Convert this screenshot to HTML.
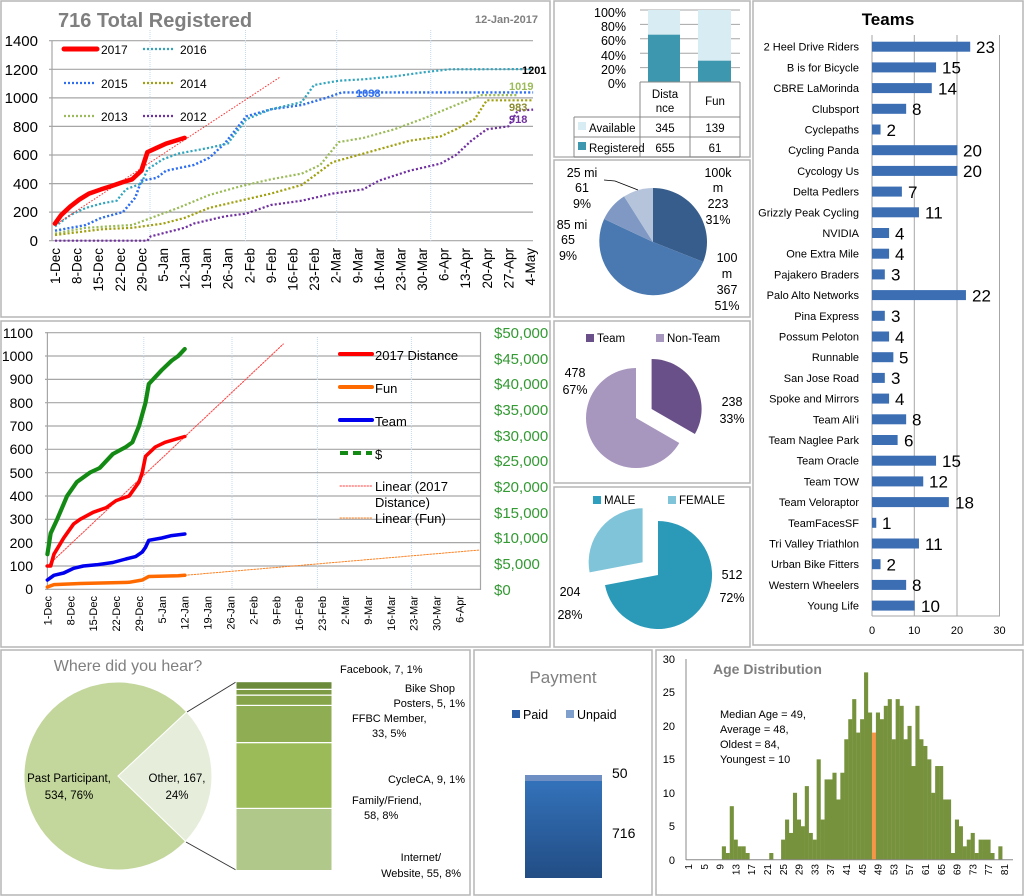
<!DOCTYPE html>
<html><head><meta charset="utf-8"><style>
html,body{margin:0;padding:0;background:#fff;}
svg{display:block;font-family:"Liberation Sans",sans-serif;}
</style></head><body>
<svg id="s" width="1024" height="896" viewBox="0 0 1024 896" xmlns="http://www.w3.org/2000/svg">
<defs>
<linearGradient id="pg" x1="0" y1="0" x2="0" y2="1"><stop offset="0" stop-color="#3474bd"/><stop offset="1" stop-color="#224d84"/></linearGradient>
</defs>
<rect width="1024" height="896" fill="#fff"/>
<!-- panels -->
<g fill="none" stroke="#b5b5b5" stroke-width="1.5">
<rect x="1" y="1" width="549" height="316"/>
<rect x="1" y="321" width="549" height="326"/>
<rect x="554" y="1" width="196" height="156"/>
<rect x="554" y="160" width="196" height="157"/>
<rect x="554" y="321" width="196" height="162"/>
<rect x="554" y="487" width="196" height="160"/>
<rect x="753" y="1" width="270" height="644"/>
<rect x="1" y="650" width="469" height="245"/>
<rect x="474" y="650" width="178" height="245"/>
<rect x="656" y="650" width="367" height="245"/>
</g>

<!-- ===== Chart 1 ===== -->
<text x="58" y="27" font-size="20" font-weight="bold" fill="#7f7f7f">716 Total Registered</text>
<text x="538" y="23" font-size="11" font-weight="bold" fill="#7f7f7f" text-anchor="end">12-Jan-2017</text>
<g stroke="#a6a6a6" stroke-width="1.2">
<line x1="49" y1="40.7" x2="533" y2="40.7"/><line x1="49" y1="69.3" x2="533" y2="69.3"/><line x1="49" y1="97.9" x2="533" y2="97.9"/><line x1="49" y1="126.4" x2="533" y2="126.4"/><line x1="49" y1="155" x2="533" y2="155"/><line x1="49" y1="183.6" x2="533" y2="183.6"/><line x1="49" y1="212.1" x2="533" y2="212.1"/><line x1="49" y1="240.7" x2="533" y2="240.7"/>
<line x1="52" y1="40.7" x2="52" y2="241"/>
</g>
<g stroke="#c5d9f1" stroke-width="1" stroke-dasharray="1,1">
<line x1="150" y1="30" x2="150" y2="241"/><line x1="245.5" y1="30" x2="245.5" y2="241"/><line x1="336.7" y1="30" x2="336.7" y2="241"/><line x1="430.7" y1="30" x2="430.7" y2="241"/>
</g>
<g font-size="15" text-anchor="end" fill="#000">
<text x="38" y="46">1400</text><text x="38" y="75">1200</text><text x="38" y="103">1000</text><text x="38" y="132">800</text><text x="38" y="160">600</text><text x="38" y="189">400</text><text x="38" y="217">200</text><text x="38" y="246">0</text>
</g>
<g font-size="13.5" text-anchor="end">
<text transform="translate(60,248) rotate(-90)">1-Dec</text><text transform="translate(81.6,248) rotate(-90)">8-Dec</text><text transform="translate(103.2,248) rotate(-90)">15-Dec</text><text transform="translate(124.8,248) rotate(-90)">22-Dec</text><text transform="translate(146.4,248) rotate(-90)">29-Dec</text><text transform="translate(168,248) rotate(-90)">5-Jan</text><text transform="translate(189.5,248) rotate(-90)">12-Jan</text><text transform="translate(211.1,248) rotate(-90)">19-Jan</text><text transform="translate(232.7,248) rotate(-90)">26-Jan</text><text transform="translate(254.3,248) rotate(-90)">2-Feb</text><text transform="translate(275.9,248) rotate(-90)">9-Feb</text><text transform="translate(297.5,248) rotate(-90)">16-Feb</text><text transform="translate(319.1,248) rotate(-90)">23-Feb</text><text transform="translate(340.7,248) rotate(-90)">2-Mar</text><text transform="translate(362.3,248) rotate(-90)">9-Mar</text><text transform="translate(383.9,248) rotate(-90)">16-Mar</text><text transform="translate(405.4,248) rotate(-90)">23-Mar</text><text transform="translate(427,248) rotate(-90)">30-Mar</text><text transform="translate(448.6,248) rotate(-90)">6-Apr</text><text transform="translate(470.2,248) rotate(-90)">13-Apr</text><text transform="translate(491.8,248) rotate(-90)">20-Apr</text><text transform="translate(513.4,248) rotate(-90)">27-Apr</text><text transform="translate(535,248) rotate(-90)">4-May</text>
</g>
<g transform="translate(55,0) scale(1.0508,1) translate(-52,0)" fill="none" stroke-linecap="butt">
<polyline stroke="#7030a0" stroke-width="2.2" stroke-dasharray="2,2" points="52,240.7 140,240.7 143,236.4 175.3,227.8 184.1,223.6 213.4,216.4 234,213.6 257.5,205 286.8,200.7 316.2,193.6 345.5,189.3 360.2,180.7 389.5,170.7 418.9,163.6 433.6,155 448.2,140.7 462.9,129.3 483.4,126.4 492.3,110.7 507,109.6"/>
<polyline stroke="#9bbb59" stroke-width="2.2" stroke-dasharray="2,2" points="52,233.6 81.4,227.8 125.4,225 140,219.3 169.4,207.8 198.8,195 228.1,186.4 257.5,179.3 286.8,173.6 304.4,165 322,142.1 345.5,137.9 374.9,129.3 404.2,117.9 433.6,105 457,95.1 492.3,95.1"/>
<polyline stroke="#a0a010" stroke-width="2.2" stroke-dasharray="2,2" points="52,235 96,229.3 125.4,227.8 154.7,223.6 175.3,217.9 198.8,207.9 228.1,200.7 257.5,193.6 286.8,185 316.2,162.1 330.8,157.9 360.2,149.3 389.5,140.7 418.9,136.4 433.6,129.3 451.2,119.3 462.9,100.3 507,100.3"/>
<polyline stroke="#2e6ef0" stroke-width="2.4" stroke-dasharray="2,2" points="52,230.7 81.4,225 96,217.9 116.6,212.1 128.3,197.8 134.2,180.7 148.9,177.8 157.7,170.7 184.1,165 198.8,157.8 213.4,143.6 234,116.4 257.5,109.3 286.8,105 310.3,97.8 325,92.4 507,92.4"/>
<polyline stroke="#31a5be" stroke-width="2.2" stroke-dasharray="2,2" points="52,226.4 66.7,215 81.4,207.9 96,203.6 110.7,200.7 119.5,189.3 134.2,183.6 140,169.3 154.7,159.3 169.4,153.6 184.1,150.7 198.8,147.8 216.4,143.6 234,119.3 257.5,109.3 286.8,102.1 298.5,85 322,80.7 345.5,79.3 374.9,76.4 404.2,72.1 427.7,69.3 507,69.1"/>
<line x1="52" y1="225" x2="266.7" y2="76.7" stroke="#ff3030" stroke-width="1" stroke-dasharray="1.5,1.5"/>
<polyline stroke="#ff0000" stroke-width="4.5" stroke-linejoin="round" stroke-linecap="round" points="52,223.6 57.9,215 66.7,206.4 75.5,199.3 84.3,193.6 96,189.3 104.8,186.4 116.6,182.1 125.4,179.3 134.2,170.7 140,152.1 148.9,147.8 157.7,143.6 175.3,137.9"/>
</g>
<!-- legend 1 -->
<line x1="64" y1="49" x2="97" y2="49" stroke="#ff0000" stroke-width="5" stroke-linecap="round"/>
<line x1="143" y1="49" x2="175" y2="49" stroke="#31a5be" stroke-width="2.2" stroke-dasharray="2,2"/>
<line x1="64" y1="83" x2="96" y2="83" stroke="#2e6ef0" stroke-width="2.2" stroke-dasharray="2,2"/>
<line x1="143" y1="83" x2="175" y2="83" stroke="#a0a010" stroke-width="2.2" stroke-dasharray="2,2"/>
<line x1="64" y1="116" x2="96" y2="116" stroke="#9bbb59" stroke-width="2.2" stroke-dasharray="2,2"/>
<line x1="143" y1="116" x2="175" y2="116" stroke="#7030a0" stroke-width="2.2" stroke-dasharray="2,2"/>
<g font-size="12"><text x="101" y="54">2017</text><text x="180" y="54">2016</text><text x="101" y="88">2015</text><text x="180" y="88">2014</text><text x="101" y="121">2013</text><text x="180" y="121">2012</text></g>
<g font-size="11" font-weight="bold">
<text x="522" y="74">1201</text><text x="356" y="97" fill="#2e6ef0">1038</text><text x="509" y="90" fill="#9bbb59">1019</text><text x="509" y="111" fill="#8a8a30">983</text><text x="509" y="123" fill="#7030a0">918</text>
</g>

<!-- ===== Chart 2 ===== -->
<g stroke="#a6a6a6" stroke-width="1.2">
<line x1="45" y1="332.7" x2="480" y2="332.7"/><line x1="45" y1="356" x2="480" y2="356"/><line x1="45" y1="379.4" x2="480" y2="379.4"/><line x1="45" y1="402.7" x2="480" y2="402.7"/><line x1="45" y1="426" x2="480" y2="426"/><line x1="45" y1="449.3" x2="480" y2="449.3"/><line x1="45" y1="472.7" x2="480" y2="472.7"/><line x1="45" y1="496" x2="480" y2="496"/><line x1="45" y1="519.3" x2="480" y2="519.3"/><line x1="45" y1="542.6" x2="480" y2="542.6"/><line x1="45" y1="566" x2="480" y2="566"/><line x1="45" y1="589.3" x2="480" y2="589.3"/>
<line x1="47.4" y1="332" x2="47.4" y2="590"/><line x1="480.5" y1="332" x2="480.5" y2="590"/>
</g>
<g stroke="#c5d9f1" stroke-width="1" stroke-dasharray="1,1">
<line x1="143.8" y1="337" x2="143.8" y2="589"/><line x1="232" y1="337" x2="232" y2="589"/><line x1="317.4" y1="337" x2="317.4" y2="589"/><line x1="411.4" y1="337" x2="411.4" y2="589"/>
</g>
<g font-size="14" text-anchor="end">
<text x="33" y="338">1100</text><text x="33" y="361">1000</text><text x="33" y="384">900</text><text x="33" y="408">800</text><text x="33" y="431">700</text><text x="33" y="454">600</text><text x="33" y="478">500</text><text x="33" y="501">400</text><text x="33" y="524">300</text><text x="33" y="548">200</text><text x="33" y="571">100</text><text x="33" y="594">0</text>
</g>
<g font-size="15" fill="#339933">
<text x="494" y="338">$50,000</text><text x="494" y="364">$45,000</text><text x="494" y="389">$40,000</text><text x="494" y="415">$35,000</text><text x="494" y="441">$30,000</text><text x="494" y="466">$25,000</text><text x="494" y="492">$20,000</text><text x="494" y="518">$15,000</text><text x="494" y="543">$10,000</text><text x="494" y="569">$5,000</text><text x="494" y="595">$0</text>
</g>
<g font-size="11" text-anchor="end">
<text transform="translate(51.4,596) rotate(-90)">1-Dec</text><text transform="translate(74.3,596) rotate(-90)">8-Dec</text><text transform="translate(97.2,596) rotate(-90)">15-Dec</text><text transform="translate(120.1,596) rotate(-90)">22-Dec</text><text transform="translate(143,596) rotate(-90)">29-Dec</text><text transform="translate(165.9,596) rotate(-90)">5-Jan</text><text transform="translate(188.7,596) rotate(-90)">12-Jan</text><text transform="translate(211.6,596) rotate(-90)">19-Jan</text><text transform="translate(234.5,596) rotate(-90)">26-Jan</text><text transform="translate(257.4,596) rotate(-90)">2-Feb</text><text transform="translate(280.3,596) rotate(-90)">9-Feb</text><text transform="translate(303.2,596) rotate(-90)">16-Feb</text><text transform="translate(326.1,596) rotate(-90)">23-Feb</text><text transform="translate(349,596) rotate(-90)">2-Mar</text><text transform="translate(371.9,596) rotate(-90)">9-Mar</text><text transform="translate(394.8,596) rotate(-90)">16-Mar</text><text transform="translate(417.6,596) rotate(-90)">23-Mar</text><text transform="translate(440.5,596) rotate(-90)">30-Mar</text><text transform="translate(463.4,596) rotate(-90)">6-Apr</text>
</g>
<g transform="translate(47.4,0) scale(1.0518,1) translate(-45,0)" fill="none" stroke-linejoin="round" stroke-linecap="round">
<line x1="45" y1="566" x2="269.3" y2="344" stroke="#ff4040" stroke-width="1" stroke-dasharray="1.5,1.5"/>
<line x1="175.6" y1="575.3" x2="456" y2="550" stroke="#ff8020" stroke-width="1" stroke-dasharray="1.5,1.5"/>
<polyline stroke="#138a13" stroke-width="4" points="45,554.3 48.1,533.3 54.3,519.3 63.7,496 73,482 85.4,472.6 94.7,468 107.2,454 119.6,447 125.8,442.3 132.1,426 138.3,402.6 141.4,384 153.8,370 163.1,360.7 169.4,356 175.6,349"/>
<polyline stroke="#ff0000" stroke-width="3.5" points="45,566 48.1,566 51.2,554.3 60.5,538 69.9,524 76.1,519.3 88.5,512.3 101,507.6 110.3,500.6 122.7,496 132.1,482 135.2,472.6 138.3,456.3 147.6,447 156.9,442.3 175.6,436.5"/>
<polyline stroke="#0000ee" stroke-width="3.5" points="45,580 51.2,575.3 60.5,573 69.9,568.3 79.2,566 91.6,564.8 107.2,562.5 119.6,559 128.9,556.6 135.2,552 138.3,547.3 141.4,540.3 153.8,538 163.1,535.6 175.6,534"/>
<polyline stroke="#ff6a00" stroke-width="3.5" points="45,587 51.2,584.6 76.1,583.5 122.7,582.3 135.2,580 141.4,576.5 169.4,575.8 175.6,575.3"/>
</g>
<g stroke-linecap="round">
<line x1="340" y1="354" x2="372" y2="354" stroke="#ff0000" stroke-width="4"/>
<line x1="340" y1="387" x2="372" y2="387" stroke="#ff6a00" stroke-width="4"/>
<line x1="340" y1="420" x2="372" y2="420" stroke="#0000ee" stroke-width="4"/>
<line x1="340" y1="453" x2="372" y2="453" stroke="#138a13" stroke-width="4" stroke-dasharray="8,5" stroke-linecap="butt"/>
<line x1="340" y1="486" x2="372" y2="486" stroke="#ff4040" stroke-width="1" stroke-dasharray="1.5,1.5"/>
<line x1="340" y1="518" x2="372" y2="518" stroke="#ff8020" stroke-width="1" stroke-dasharray="1.5,1.5"/>
</g>
<g font-size="13">
<text x="375" y="360">2017 Distance</text><text x="375" y="393">Fun</text><text x="375" y="426">Team</text><text x="375" y="459">$</text><text x="375" y="491">Linear (2017</text><text x="375" y="507">Distance)</text><text x="375" y="523">Linear (Fun)</text>
</g>

<!-- ===== Middle top: 100% bar ===== -->
<g stroke="#a6a6a6" stroke-width="1">
<line x1="640" y1="10" x2="740" y2="10"/><line x1="640" y1="24.4" x2="740" y2="24.4"/><line x1="640" y1="38.8" x2="740" y2="38.8"/><line x1="640" y1="53.2" x2="740" y2="53.2"/><line x1="640" y1="67.6" x2="740" y2="67.6"/>
</g>
<rect x="648" y="10" width="32" height="72" fill="#d8ecf3"/>
<rect x="648" y="34.7" width="32" height="47.3" fill="#3d97ae"/>
<rect x="698" y="10" width="33" height="72" fill="#d8ecf3"/>
<rect x="698" y="60.7" width="33" height="21.3" fill="#3d97ae"/>
<g font-size="12.5" text-anchor="end"><text x="626" y="17">100%</text><text x="626" y="31">80%</text><text x="626" y="45">60%</text><text x="626" y="60">40%</text><text x="626" y="74">20%</text><text x="626" y="88">0%</text></g>
<g stroke="#888" stroke-width="1" fill="none">
<line x1="640" y1="82" x2="740" y2="82"/><line x1="574" y1="117" x2="740" y2="117"/><line x1="574" y1="137" x2="740" y2="137"/><line x1="574" y1="157" x2="740" y2="157"/>
<line x1="640" y1="82" x2="640" y2="157"/><line x1="690" y1="82" x2="690" y2="157"/><line x1="740" y1="82" x2="740" y2="157"/><line x1="574" y1="117" x2="574" y2="157"/>
</g>
<rect x="578" y="122" width="8" height="8" fill="#d8ecf3"/><rect x="578" y="142" width="8" height="8" fill="#3d97ae"/>
<g font-size="11.5" text-anchor="middle">
<text x="665" y="98">Dista</text><text x="665" y="112">nce</text><text x="715" y="105">Fun</text>
<text x="665" y="132">345</text><text x="715" y="132">139</text><text x="665" y="152">655</text><text x="715" y="152">61</text>
</g>
<g font-size="11.5"><text x="589" y="132">Available</text><text x="589" y="152">Registered</text></g>

<!-- ===== distance pie ===== -->
<path d="M653,242 L653,188 A54,54 0 0 1 703.2,261.9 Z" fill="#365d8c"/>
<path d="M653,242 L703.2,261.9 A54,54 0 1 1 604.1,219 Z" fill="#4a78b0"/>
<path d="M653,242 L604.1,219 A54,54 0 0 1 624.1,196.4 Z" fill="#8099c4"/>
<path d="M653,242 L624.1,196.4 A54,54 0 0 1 653,188 Z" fill="#b5c4db"/>
<polyline points="604,180 615,181 638,190" fill="none" stroke="#000" stroke-width="0.8"/>
<g font-size="12.5" text-anchor="middle">
<text x="582" y="177">25 mi</text><text x="582" y="192">61</text><text x="582" y="208">9%</text>
<text x="718" y="177">100k</text><text x="718" y="192">m</text><text x="718" y="208">223</text><text x="718" y="224">31%</text>
<text x="572" y="229">85 mi</text><text x="568" y="244">65</text><text x="568" y="260">9%</text>
<text x="727" y="262">100</text><text x="727" y="278">m</text><text x="727" y="294">367</text><text x="727" y="310">51%</text>
</g>

<!-- ===== team pie ===== -->
<rect x="586" y="334" width="8" height="8" fill="#6a5088"/><rect x="656" y="334" width="8" height="8" fill="#a796bd"/>
<g font-size="11.5"><text x="597" y="342">Team</text><text x="667" y="342">Non-Team</text></g>
<path d="M636,418 L679.3,443 A50,50 0 1 1 636,368 Z" fill="#a796bd"/>
<path d="M651.6,409 L651.6,359 A50,50 0 0 1 694.9,434 Z" fill="#6a5088"/>
<g font-size="12.5" text-anchor="middle"><text x="575" y="377">478</text><text x="575" y="394">67%</text><text x="732" y="406">238</text><text x="732" y="423">33%</text></g>

<!-- ===== gender pie ===== -->
<rect x="593" y="496" width="8" height="8" fill="#2f9fbf"/><rect x="668" y="496" width="8" height="8" fill="#7fc4d9"/>
<g font-size="11.5"><text x="604" y="504">MALE</text><text x="679" y="504">FEMALE</text></g>
<path d="M658,575 L658,521 A54,54 0 1 1 605,585.1 Z" fill="#2b9ab9"/>
<path d="M642.6,562.3 L589.6,572.4 A54,54 0 0 1 642.6,508.3 Z" fill="#7fc4d9"/>
<g font-size="12.5" text-anchor="middle"><text x="732" y="579">512</text><text x="732" y="602">72%</text><text x="570" y="596">204</text><text x="570" y="619">28%</text></g>

<!-- ===== Teams ===== -->
<text x="888" y="25" font-size="17" font-weight="bold" text-anchor="middle">Teams</text>
<g stroke="#a6a6a6" stroke-width="1"><line x1="914.3" y1="35" x2="914.3" y2="616"/><line x1="957" y1="35" x2="957" y2="616"/><line x1="999.5" y1="35" x2="999.5" y2="616"/><line x1="872" y1="35" x2="872" y2="616"/><line x1="872" y1="616" x2="1000" y2="616"/></g>
<g id="tb" fill="#3c6eb4"></g>
<g font-size="11" text-anchor="end">
<text x="859" y="50.7">2 Heel Drive Riders</text><text x="859" y="71.4">B is for Bicycle</text><text x="859" y="92.1">CBRE LaMorinda</text><text x="859" y="112.8">Clubsport</text><text x="859" y="133.5">Cyclepaths</text><text x="859" y="154.2">Cycling Panda</text><text x="859" y="174.9">Cycology Us</text><text x="859" y="195.6">Delta Pedlers</text><text x="859" y="216.3">Grizzly Peak Cycling</text><text x="859" y="237">NVIDIA</text><text x="859" y="257.7">One Extra Mile</text><text x="859" y="278.4">Pajakero Braders</text><text x="859" y="299.1">Palo Alto Networks</text><text x="859" y="319.8">Pina Express</text><text x="859" y="340.5">Possum Peloton</text><text x="859" y="361.2">Runnable</text><text x="859" y="381.9">San Jose Road</text><text x="859" y="402.6">Spoke and Mirrors</text><text x="859" y="423.3">Team Ali'i</text><text x="859" y="444">Team Naglee Park</text><text x="859" y="464.7">Team Oracle</text><text x="859" y="485.4">Team TOW</text><text x="859" y="506.1">Team Veloraptor</text><text x="859" y="526.8">TeamFacesSF</text><text x="859" y="547.5">Tri Valley Triathlon</text><text x="859" y="568.2">Urban Bike Fitters</text><text x="859" y="588.9">Western Wheelers</text><text x="859" y="609.6">Young Life</text>
</g>
<g font-size="17">
<text x="976" y="53">23</text><text x="942" y="73.7">15</text><text x="938" y="94.4">14</text><text x="912" y="115">8</text><text x="886.5" y="135.8">2</text><text x="963" y="156.5">20</text><text x="963" y="177.2">20</text><text x="908" y="198">7</text><text x="925" y="218.6">11</text><text x="895" y="239.3">4</text><text x="895" y="260">4</text><text x="891" y="280.7">3</text><text x="972" y="301.4">22</text><text x="891" y="322">3</text><text x="895" y="342.8">4</text><text x="899" y="363.5">5</text><text x="891" y="384.2">3</text><text x="895" y="404.9">4</text><text x="912" y="425.6">8</text><text x="904" y="446.3">6</text><text x="942" y="467">15</text><text x="929" y="487.7">12</text><text x="955" y="508.4">18</text><text x="882" y="529.1">1</text><text x="925" y="549.8">11</text><text x="886.5" y="570.5">2</text><text x="912" y="591.2">8</text><text x="921" y="611.9">10</text>
</g>
<g font-size="11" text-anchor="middle"><text x="872" y="634">0</text><text x="914.3" y="634">10</text><text x="957" y="634">20</text><text x="999.5" y="634">30</text></g>

<!-- ===== Where did you hear ===== -->
<text x="128" y="671" font-size="16" fill="#7f7f7f" text-anchor="middle">Where did you hear?</text>
<path d="M118,776 L185.6,841.3 A94,94 0 1 1 186.7,711.9 Z" fill="#c3d69b" stroke="#fff" stroke-width="1"/>
<path d="M118,776 L186.7,711.9 A94,94 0 0 1 185.6,841.3 Z" fill="#e6eedb" stroke="#fff" stroke-width="1"/>
<line x1="187" y1="712" x2="236" y2="682" stroke="#333" stroke-width="1"/>
<line x1="186" y1="842" x2="236" y2="870" stroke="#333" stroke-width="1"/>
<g stroke="#fff" stroke-width="1">
<rect x="236" y="681.7" width="96" height="7.5" fill="#6b8a3a"/>
<rect x="236" y="689.5" width="96" height="5.5" fill="#7d9b44"/>
<rect x="236" y="695.3" width="96" height="10" fill="#86a54a"/>
<rect x="236" y="705.5" width="96" height="37" fill="#8fad52"/>
<rect x="236" y="742.8" width="96" height="65.5" fill="#9bbb59"/>
<rect x="236" y="808.5" width="96" height="62" fill="#b0c98a"/>
</g>
<g font-size="11.5" text-anchor="middle"><text x="69" y="782">Past Participant,</text><text x="69" y="799">534, 76%</text><text x="177" y="782">Other, 167,</text><text x="177" y="799">24%</text></g>
<g font-size="11">
<text x="340" y="673">Facebook, 7, 1%</text>
<text x="455" y="692" text-anchor="end">Bike Shop</text><text x="465" y="707" text-anchor="end">Posters, 5, 1%</text>
<text x="352" y="722">FFBC Member,</text><text x="372" y="737">33, 5%</text>
<text x="465" y="783" text-anchor="end">CycleCA, 9, 1%</text>
<text x="352" y="804">Family/Friend,</text><text x="364" y="819">58, 8%</text>
<text x="441" y="861" text-anchor="end">Internet/</text><text x="461" y="877" text-anchor="end">Website, 55, 8%</text>
</g>

<!-- ===== Payment ===== -->
<text x="563" y="683" font-size="17" fill="#7f7f7f" text-anchor="middle">Payment</text>
<rect x="512" y="710" width="8" height="8" fill="#2a5fa8"/><rect x="566" y="710" width="8" height="8" fill="#7f9fcc"/>
<g font-size="12.5"><text x="523" y="719">Paid</text><text x="577" y="719">Unpaid</text></g>
<rect x="525" y="775" width="77" height="103" fill="url(#pg)"/>
<rect x="525" y="775" width="77" height="6" fill="#6d8fc4"/>
<g font-size="14"><text x="612" y="778">50</text><text x="612" y="838">716</text></g>

<!-- ===== Age distribution ===== -->
<text x="713" y="674" font-size="14" font-weight="bold" fill="#7f7f7f">Age Distribution</text>
<g font-size="11"><text x="720" y="718">Median Age =  49,</text><text x="720" y="733">Average = 48,</text><text x="720" y="748">Oldest = 84,</text><text x="720" y="763">Youngest = 10</text></g>
<g font-size="11" text-anchor="end"><text x="675" y="663">30</text><text x="675" y="696">25</text><text x="675" y="730">20</text><text x="675" y="763">15</text><text x="675" y="797">10</text><text x="675" y="830">5</text><text x="675" y="864">0</text></g>
<g id="hist"></g>
<line x1="686" y1="859.7" x2="1013" y2="859.7" stroke="#888" stroke-width="1"/>
<line x1="686" y1="659" x2="686" y2="860" stroke="#888" stroke-width="1"/>
<g font-size="10" text-anchor="end">
<text transform="translate(692,864) rotate(-90)">1</text><text transform="translate(707.8,864) rotate(-90)">5</text><text transform="translate(723.6,864) rotate(-90)">9</text><text transform="translate(739.4,864) rotate(-90)">13</text><text transform="translate(755.2,864) rotate(-90)">17</text><text transform="translate(771,864) rotate(-90)">21</text><text transform="translate(786.8,864) rotate(-90)">25</text><text transform="translate(802.6,864) rotate(-90)">29</text><text transform="translate(818.4,864) rotate(-90)">33</text><text transform="translate(834.2,864) rotate(-90)">37</text><text transform="translate(850,864) rotate(-90)">41</text><text transform="translate(865.8,864) rotate(-90)">45</text><text transform="translate(881.6,864) rotate(-90)">49</text><text transform="translate(897.4,864) rotate(-90)">53</text><text transform="translate(913.2,864) rotate(-90)">57</text><text transform="translate(929,864) rotate(-90)">61</text><text transform="translate(944.8,864) rotate(-90)">65</text><text transform="translate(960.6,864) rotate(-90)">69</text><text transform="translate(976.4,864) rotate(-90)">73</text><text transform="translate(992.2,864) rotate(-90)">77</text><text transform="translate(1008,864) rotate(-90)">81</text>
</g>
</svg>
<script>
(function(){
var NS="http://www.w3.org/2000/svg";
var tv=[23,15,14,8,2,20,20,7,11,4,4,3,22,3,4,5,3,4,8,6,15,12,18,1,11,2,8,10];
var tb=document.getElementById("tb");
for(var i=0;i<tv.length;i++){var r=document.createElementNS(NS,"rect");r.setAttribute("x",872);r.setAttribute("y",46.7+20.7*i-5);r.setAttribute("width",tv[i]*4.27);r.setAttribute("height",10);tb.appendChild(r);}
var h={10:2,11:1,12:8,13:3,14:2,15:2,16:1,22:1};
var seq=[3,6,4,10,6,5,11,4,3,15,6,12,12,13,9,13,18,21,24,19,21,28,22,19,22,21,23,24,18,24,23,18,20,14,23,18,17,15,10,14,14,9,9,1,6,5,2,3,4,1,3,3,3,1,0,2];
for(var k=0;k<seq.length;k++)h[25+k]=seq[k];
var g=document.getElementById("hist");
for(var a in h){var v=h[a];if(!v)continue;var r=document.createElementNS(NS,"rect");var x=686.3+3.95*(a-1);r.setAttribute("x",x);r.setAttribute("width",4.1);r.setAttribute("y",859.7-v*6.69);r.setAttribute("height",v*6.69);r.setAttribute("fill",a==48?"#f79646":"#76923c");g.appendChild(r);}
})();
</script>
</body></html>
